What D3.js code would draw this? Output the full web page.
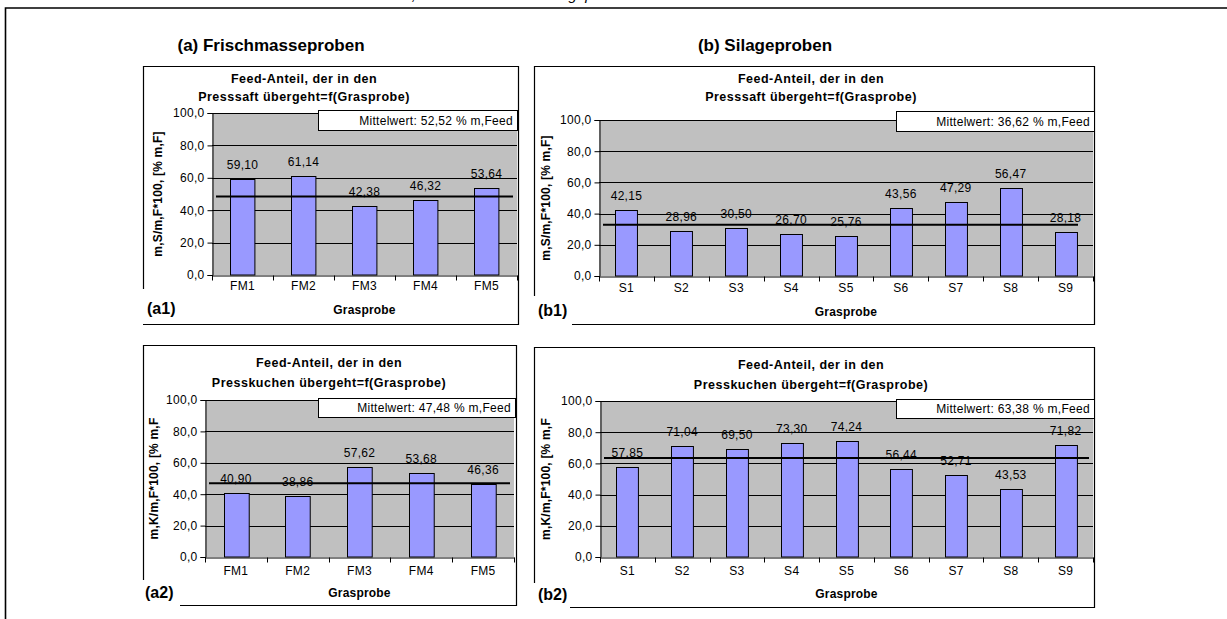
<!DOCTYPE html>
<html>
<head>
<meta charset="utf-8">
<script src="https://cdn.jsdelivr.net/npm/d3@7"></script>
<style>
  html, body { margin: 0; padding: 0; background: #fff; }
  svg { display: block; font-family: Arial, "Liberation Sans", sans-serif; }
  .tick-lbl { font-size: 12px; letter-spacing: 0.3px; }
  .val-lbl { font-size: 12px; letter-spacing: 0.3px; }
  .ttl { font-size: 12.5px; font-weight: bold; letter-spacing: 0.5px; }
  .axt { font-size: 12px; font-weight: bold; letter-spacing: 0.2px; }
  .tag { font-size: 16px; font-weight: bold; }
  .head { font-size: 17px; font-weight: bold; }
</style>
</head>
<body>
<svg id="chart" width="1227" height="619"></svg>
<script>
// categories
const catsFM = ['FM1', 'FM2', 'FM3', 'FM4', 'FM5'];
const catsS = ['S1', 'S2', 'S3', 'S4', 'S5', 'S6', 'S7', 'S8', 'S9'];

// values
const valsA1 = [59.10, 61.14, 42.38, 46.32, 53.64];
const valsB1 = [42.15, 28.96, 30.50, 26.70, 25.76, 43.56, 47.29, 56.47, 28.18];
const valsA2 = [40.90, 38.86, 57.62, 53.68, 46.36];
const valsB2 = [57.85, 71.04, 69.50, 73.30, 74.24, 56.44, 52.71, 43.53, 71.82];

// Mittelwert labels and the level where the black line sits
const meanTexts = ['52,52', '36,62', '47,48', '63,38'];
const meanLevels = [48.4, 32.8, 47.0, 63.4];

const yTicks = [0, 20, 40, 60, 80, 100];
const titleSaft = ['Feed-Anteil, der in den', 'Presssaft übergeht=f(Grasprobe)'];
const titleKuchen = ['Feed-Anteil, der in den', 'Presskuchen übergeht=f(Grasprobe)'];
const yTitleS = 'm,S/m,F*100, [% m,F]';
const yTitleK = 'm,K/m,F*100, [% m,F';
const headings = ['(a) Frischmasseproben', '(b) Silageproben'];

const fmt = d3.format('.2f');
const de = v => fmt(v).replace('.', ',');
const deTick = v => v.toFixed(1).replace('.', ',');

const svg = d3.select('#chart');

// outer frame (runs off the right and bottom edge)
svg.append('path')
  .attr('d', 'M5.5,700 V8 H1300')
  .attr('fill', 'none').attr('stroke', '#000').attr('stroke-width', 1.6);

// caption line of the page above, only its lowest pixels show
svg.append('text').attr('x', 60).attr('y', 0)
  .style('font-size', '15px').style('font-style', 'italic')
  .text('Abb. 4.6: Feed-Anteile in Presssaft und Presskuchen, Frischmasse- und Silageproben');

svg.selectAll('text.head').data(headings).enter().append('text')
  .attr('class', 'head')
  .attr('x', (d, i) => i === 0 ? 271 : 765)
  .attr('y', 51)
  .attr('text-anchor', 'middle')
  .text(d => d);

const panels = [
  { cats: catsFM, vals: valsA1, mi: 0, title: titleSaft, yt: yTitleS, tag: '(a1)',
    x: 143, y: 66, r: 518, b: 324, px0: 212, px1: 517, pyT: 113, pyB: 275,
    tx: 304, ty: [83, 101], box: [318, 110, 199, 20], ytx: 158,
    leftCut: 289, botStart: 143, tagX: 147, tagY: 314, catY: 290, axY: 314, lineIn: [4, 4] },
  { cats: catsS, vals: valsB1, mi: 1, title: titleSaft, yt: yTitleS, tag: '(b1)',
    x: 534, y: 66, r: 1094, b: 324, px0: 599, px1: 1093, pyT: 120, pyB: 276,
    tx: 811, ty: [83, 101], box: [896, 111, 198, 20], ytx: 546,
    leftCut: 296, botStart: 572, tagX: 538, tagY: 316, catY: 292, axY: 316, lineIn: [4, 15] },
  { cats: catsFM, vals: valsA2, mi: 2, title: titleKuchen, yt: yTitleK, tag: '(a2)',
    x: 143, y: 345, r: 516, b: 605, px0: 205, px1: 514, pyT: 400, pyB: 557,
    tx: 329, ty: [367, 387], box: [318, 398, 197, 19], ytx: 154,
    leftCut: 580, botStart: 180, tagX: 145, tagY: 598, catY: 575, axY: 597, lineIn: [4, 4] },
  { cats: catsS, vals: valsB2, mi: 3, title: titleKuchen, yt: yTitleK, tag: '(b2)',
    x: 534, y: 347, r: 1094, b: 607, px0: 600, px1: 1093, pyT: 401, pyB: 557,
    tx: 811, ty: [369, 389], box: [896, 399, 198, 19], ytx: 546,
    leftCut: 583, botStart: 570, tagX: 538, tagY: 600, catY: 575, axY: 598, lineIn: [4, 4] }
];

panels.forEach(p => {
  const g = svg.append('g');
  const x = d3.scaleBand().domain(p.cats).range([p.px0, p.px1]).paddingInner(0.6).paddingOuter(0.3);
  const xb = d3.scaleBand().domain(p.cats).range([p.px0, p.px1]);
  const y = d3.scaleLinear().domain([0, 100]).range([p.pyB, p.pyT]);

  // panel border (left side broken by the tag)
  g.append('path')
    .attr('d', `M${p.x + 0.5},${p.leftCut} V${p.y + 0.5} H${p.r + 0.5} V${p.b + 0.5} H${p.botStart}`)
    .attr('fill', 'none').attr('stroke', '#000').attr('stroke-width', 1.2);

  // titles
  g.selectAll('text.ttl').data(p.title).enter().append('text')
    .attr('class', 'ttl').attr('x', p.tx).attr('y', (d, i) => p.ty[i])
    .attr('text-anchor', 'middle').text(d => d);

  // plot area
  g.append('rect').attr('x', p.px0).attr('y', p.pyT)
    .attr('width', p.px1 - p.px0).attr('height', p.pyB - p.pyT).attr('fill', '#c0c0c0');

  // gridlines
  g.selectAll('line.grid').data(yTicks.slice(1)).enter().append('line')
    .attr('x1', p.px0).attr('x2', p.px1)
    .attr('y1', d => Math.round(y(d)) + 0.5).attr('y2', d => Math.round(y(d)) + 0.5)
    .attr('stroke', '#000').attr('stroke-width', 1);

  // y axis
  const ya = g.append('g').attr('transform', `translate(${p.px0 + 0.5},0)`)
    .call(d3.axisLeft(y).tickValues(yTicks).tickFormat(deTick).tickSize(5).tickPadding(3));
  ya.select('.domain').attr('stroke', '#000');
  ya.selectAll('.tick line').attr('stroke', '#000');
  ya.selectAll('text').attr('class', 'tick-lbl').attr('font-family', null).attr('font-size', null).attr('fill', '#000');

  // bars
  g.selectAll('rect.bar').data(p.vals).enter().append('rect')
    .attr('x', (d, i) => Math.round(x(p.cats[i])) + 0.5)
    .attr('y', d => Math.round(y(d)) + 0.5)
    .attr('width', x.bandwidth())
    .attr('height', d => y(0) - Math.round(y(d)) - 0.5)
    .attr('fill', '#9999ff').attr('stroke', '#000').attr('stroke-width', 1);

  // x axis
  const xa = g.append('g').attr('transform', `translate(0,${Math.round(y(0)) + 0.5})`)
    .call(d3.axisBottom(xb).tickSize(0).tickPadding(0));
  xa.select('.domain').attr('stroke', '#000');
  xa.selectAll('.tick text').remove();
  xa.selectAll('.tick line').remove();
  const bounds = d3.range(p.cats.length + 1).map(i => p.px0 + i * xb.step());
  xa.selectAll('line.xt').data(bounds).enter().append('line')
    .attr('x1', d => Math.round(d) + 0.5).attr('x2', d => Math.round(d) + 0.5)
    .attr('y1', 0).attr('y2', 5).attr('stroke', '#000');
  g.selectAll('text.cat').data(p.cats).enter().append('text')
    .attr('class', 'tick-lbl').attr('x', d => xb(d) + xb.bandwidth() / 2)
    .attr('y', p.catY).attr('text-anchor', 'middle').text(d => d);

  // value labels
  g.selectAll('text.val').data(p.vals).enter().append('text')
    .attr('class', 'val-lbl')
    .attr('x', (d, i) => xb(p.cats[i]) + xb.bandwidth() / 2)
    .attr('y', d => y(d) - 10)
    .attr('text-anchor', 'middle').text(d => de(d));

  // mean line
  const lvl = meanLevels[p.mi];
  g.append('path')
    .datum([[p.px0 + p.lineIn[0], lvl], [p.px1 - p.lineIn[1], lvl]])
    .attr('d', d3.line().x(d => d[0]).y(d => y(d[1])))
    .attr('stroke', '#000').attr('stroke-width', 2);

  // Mittelwert box
  g.append('rect').attr('x', p.box[0] + 0.5).attr('y', p.box[1] + 0.5)
    .attr('width', p.box[2]).attr('height', p.box[3])
    .attr('fill', '#fff').attr('stroke', '#000').attr('stroke-width', 1);
  g.append('text').attr('class', 'val-lbl')
    .attr('x', p.box[0] + p.box[2] - 4).attr('y', p.box[1] + p.box[3] / 2 + 4.5)
    .attr('text-anchor', 'end')
    .text(`Mittelwert: ${meanTexts[p.mi]} % m,Feed`);

  // axis titles
  g.append('text').attr('class', 'axt')
    .attr('x', (p.px0 + p.px1) / 2).attr('y', p.axY)
    .attr('text-anchor', 'middle').text('Grasprobe');
  g.append('text').attr('class', 'axt')
    .attr('transform', `translate(${p.ytx + 4},${(p.pyT + p.pyB) / 2}) rotate(-90)`)
    .attr('text-anchor', 'middle').text(p.yt);

  // panel tag
  g.append('text').attr('class', 'tag').attr('x', p.tagX).attr('y', p.tagY).text(p.tag);
});
</script>
</body>
</html>
